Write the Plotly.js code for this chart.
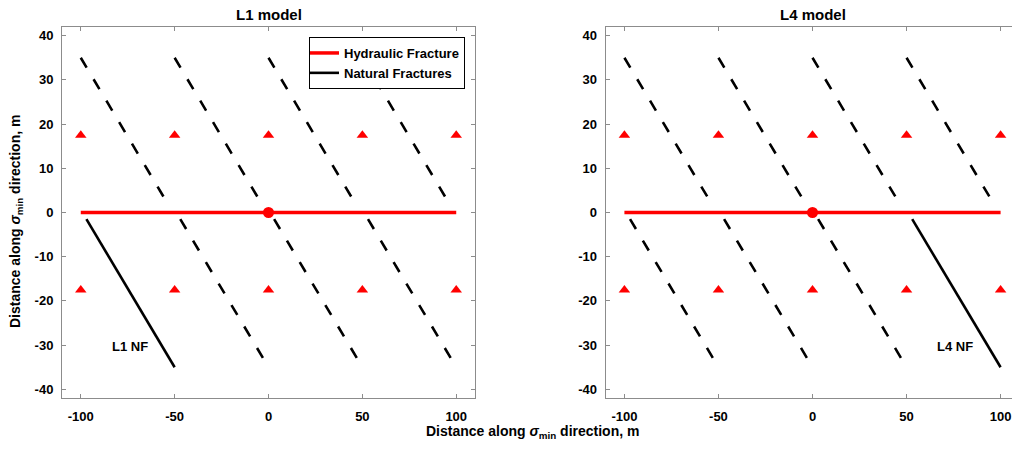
<!DOCTYPE html>
<html>
<head>
<meta charset="utf-8">
<script src="https://cdn.plot.ly/plotly-3.0.1.min.js"></script>
<style>
html,body{margin:0;padding:0;overflow:hidden;background:#fff;}
#chart{width:1020px;height:450px;}
</style>
</head>
<body>
<div id="chart"></div>
<script>
// ---- data ----
const hfX = [-100, 100];
const hfY = [0, 0];
const wellX = [0];
const wellY = [0];
const monX = [-100, -50, 0, 50, 100];
const monUpperY = 17.5;
const monLowerY = -17.5;
// natural fractures: segments (start x, start y) -> (end x, end y)
const upperStartX = [-100, -50, 0, 50];
const upperEndX = [-53, -3, 47, 97];
const upperStartY = 35, upperEndY = 1.5;
const lowerStartOffset = 3, lowerEndOffset = 50;
const lowerStartY = -1.5, lowerEndY = -35;
// left panel (L1): solid lower NF at x0=-100, dashed lower at others
const l1LowerDashedX0 = [-50, 0, 50];
const l1SolidX0 = -100;
// right panel (L4): solid lower NF at x0=50
const l4LowerDashedX0 = [-100, -50, 0];
const l4SolidX0 = 50;
const titles = ['L1 model', 'L4 model'];
const nfLabels = ['L1 NF', 'L4 NF'];
const nfLabelX = [-74, 76];
const nfLabelY = [-30.4, -30.4];
const xTicks = [-100, -50, 0, 50, 100];
const yTicks = [-40, -30, -20, -10, 0, 10, 20, 30, 40];

// ---- build ----
const W = 1020, H = 450;
const FONT = 'Liberation Sans, Arial, sans-serif';
const RED = '#ff0000';

function segs(x0s, sx, ex, sy, ey) {
  const X = [], Y = [];
  x0s.forEach(x0 => { X.push(x0 + sx, x0 + ex, null); Y.push(sy, ey, null); });
  return {X, Y};
}
const upper = {X: [], Y: []};
upperStartX.forEach((s, i) => { upper.X.push(s, upperEndX[i], null); upper.Y.push(upperStartY, upperEndY, null); });

function panel(xa, ya, lowerDashedX0, solidX0, legend) {
  const lowDash = segs(lowerDashedX0, lowerStartOffset, lowerEndOffset, lowerStartY, lowerEndY);
  return [
    {x: upper.X, y: upper.Y, xaxis: xa, yaxis: ya, mode: 'lines', showlegend: false, hoverinfo: 'skip',
     line: {color: '#000', width: 2.6, dash: '11.5px,13.5px'}},
    {x: lowDash.X, y: lowDash.Y, xaxis: xa, yaxis: ya, mode: 'lines', showlegend: false, hoverinfo: 'skip',
     line: {color: '#000', width: 2.6, dash: '11.5px,13.5px'}},
    {x: [solidX0 + lowerStartOffset, solidX0 + lowerEndOffset], y: [lowerStartY, lowerEndY],
     xaxis: xa, yaxis: ya, mode: 'lines', name: 'Natural Fractures', showlegend: false,
     line: {color: '#000', width: 2.6}},
    {x: hfX, y: hfY, xaxis: xa, yaxis: ya, mode: 'lines', name: 'Hydraulic Fracture', showlegend: legend,
     line: {color: RED, width: 3.5}},
    {x: monX, y: monX.map(() => monUpperY), xaxis: xa, yaxis: ya, mode: 'markers', showlegend: false,
     marker: {symbol: 'triangle-up', size: 10, color: RED}},
    {x: monX, y: monX.map(() => monLowerY), xaxis: xa, yaxis: ya, mode: 'markers', showlegend: false,
     marker: {symbol: 'triangle-up', size: 10, color: RED}},
    {x: wellX, y: wellY, xaxis: xa, yaxis: ya, mode: 'markers', showlegend: false,
     marker: {symbol: 'circle', size: 11, color: RED}}
  ];
}
const left = panel('x', 'y', l1LowerDashedX0, l1SolidX0, true);
const right = panel('x2', 'y2', l4LowerDashedX0, l4SolidX0, false);
left[2].showlegend = true;
// order legend: HF first, NF second
const data = [left[0], left[1], left[3], left[2], left[4], left[5], left[6]].concat(right);

const px = v => v / W;
const py = v => 1 - v / H;
const axisCommon = {
  showgrid: false, zeroline: false, showline: true, linecolor: '#8c8c8c', linewidth: 1,
  mirror: 'ticks', ticks: 'inside', ticklen: 4, tickcolor: '#8c8c8c', tickwidth: 1,
  tickfont: {family: FONT, size: 13, color: '#000', weight: 'bold'}, fixedrange: true
};
const xCommon = Object.assign({}, axisCommon, {range: [-110, 110], tickvals: xTicks, ticktext: xTicks.map(String), ticklabelstandoff: 6});
const yCommon = Object.assign({}, axisCommon, {range: [-42, 42], tickvals: yTicks, ticktext: yTicks.map(String), ticklabelstandoff: 5,
  domain: [py(398.2), py(26.8)]});

const layout = {
  width: W, height: H, margin: {l: 0, r: 0, t: 0, b: 0}, paper_bgcolor: '#fff', plot_bgcolor: '#fff',
  xaxis: Object.assign({}, xCommon, {domain: [px(62), px(475)], anchor: 'y'}),
  yaxis: Object.assign({}, yCommon, {anchor: 'x'}),
  xaxis2: Object.assign({}, xCommon, {domain: [px(605.6), px(1019.4)], anchor: 'y2'}),
  yaxis2: Object.assign({}, yCommon, {anchor: 'x2'}),
  showlegend: true,
  legend: {x: px(465), y: py(37), xanchor: 'right', yanchor: 'top', bgcolor: '#fff', bordercolor: '#000', borderwidth: 1,
    font: {family: FONT, size: 13, color: '#000', weight: 'bold'}, itemwidth: 30, tracegroupgap: 0, indentation: -6},
  annotations: [
    {text: titles[0], xref: 'x', x: 0, yref: 'paper', y: py(15), yanchor: 'middle', showarrow: false,
     font: {family: FONT, size: 15, color: '#000', weight: 'bold'}},
    {text: titles[1], xref: 'x2', x: 0, yref: 'paper', y: py(15), yanchor: 'middle', showarrow: false,
     font: {family: FONT, size: 15, color: '#000', weight: 'bold'}},
    {text: nfLabels[0], xref: 'x', yref: 'y', x: nfLabelX[0], y: nfLabelY[0], showarrow: false,
     font: {family: FONT, size: 13, color: '#000', weight: 'bold'}},
    {text: nfLabels[1], xref: 'x2', yref: 'y2', x: nfLabelX[1], y: nfLabelY[1], showarrow: false,
     font: {family: FONT, size: 13, color: '#000', weight: 'bold'}},
    {text: 'Distance along <i>σ</i><sub>min</sub> direction, m', xref: 'paper', yref: 'paper',
     x: px(532), y: py(432), xanchor: 'center', yanchor: 'middle', showarrow: false,
     font: {family: FONT, size: 14, color: '#000', weight: 'bold'}},
    {text: 'Distance along <i>σ</i><sub>min</sub> direction, m', xref: 'paper', yref: 'paper',
     x: px(16), y: py(222), xanchor: 'center', yanchor: 'middle', textangle: -90, showarrow: false,
     font: {family: FONT, size: 14, color: '#000', weight: 'bold'}}
  ]
};
Plotly.newPlot('chart', data, layout, {staticPlot: true, displayModeBar: false});
</script>
</body>
</html>
